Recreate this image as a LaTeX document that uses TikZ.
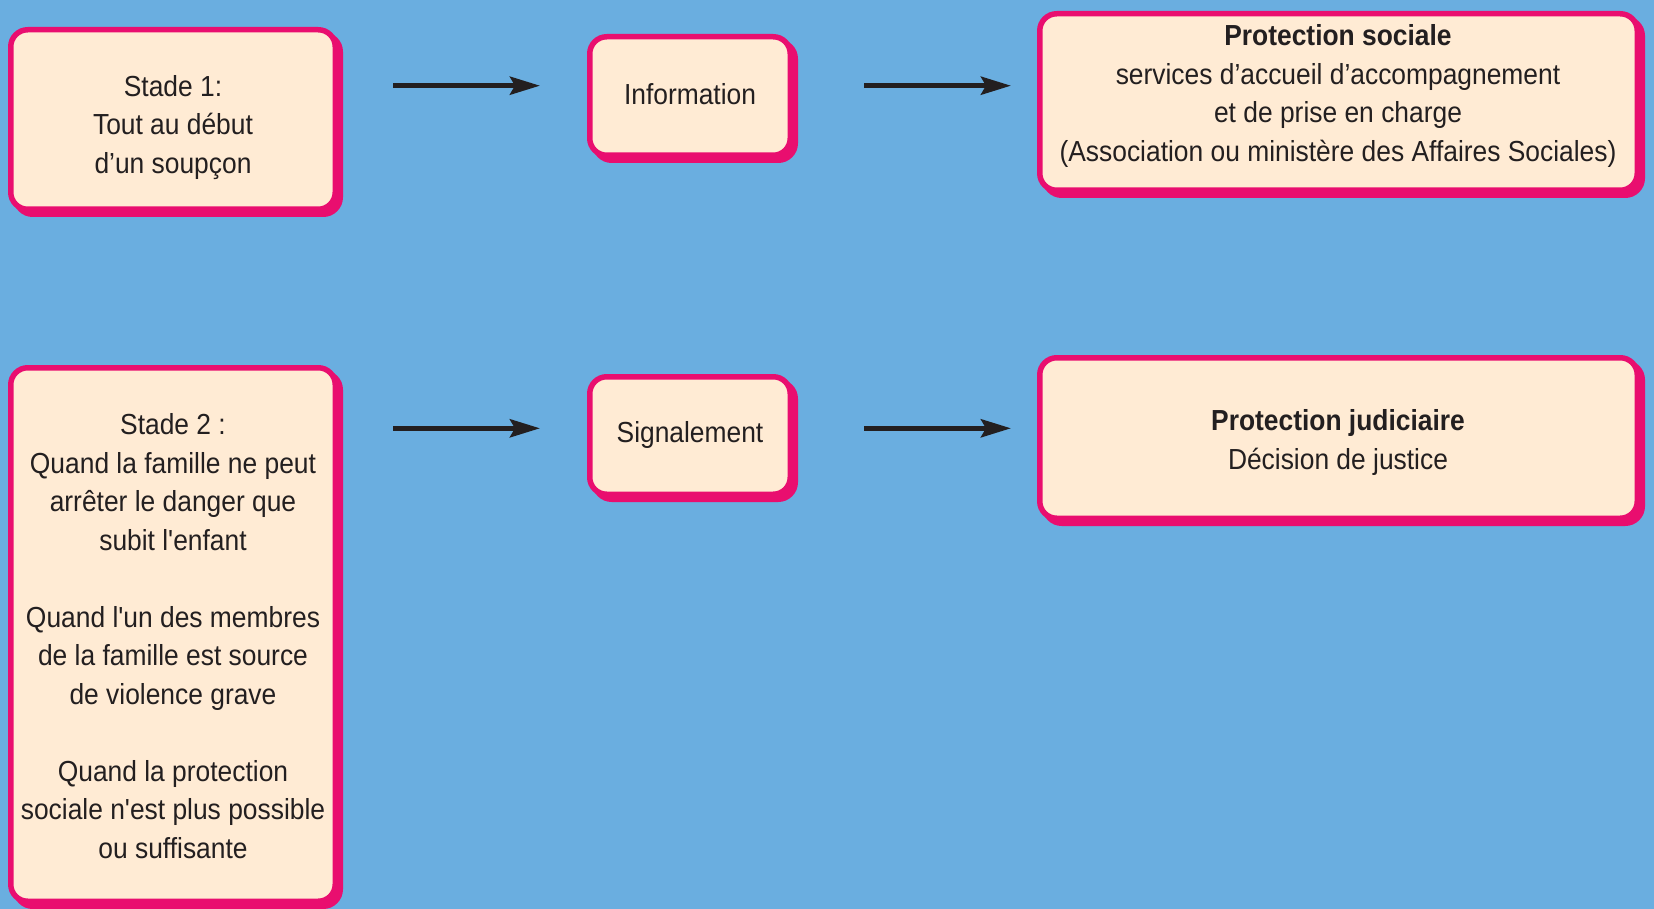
\documentclass[tikz,border=0pt]{standalone}
\usepackage{fontspec}
\setmainfont{Liberation Sans}[FakeStretch=0.91, Ligatures=TeXOff]
\usetikzlibrary{arrows.meta,shadows}
\definecolor{bgblue}{HTML}{6AAEE0}
\definecolor{pinkc}{HTML}{E90E6F}
\definecolor{cream}{HTML}{FFEBD4}
\definecolor{ink}{HTML}{231F20}
\newcommand{\diagfont}{\fontsize{29pt}{38.5pt}\selectfont}
\begin{document}
\begin{tikzpicture}[x=1pt,y=-1pt,
  box/.style={draw=pinkc, line width=5.5pt, fill=cream, rounded corners=17pt,
    inner sep=0pt, outer sep=0pt,
    drop shadow={shadow xshift=5pt, shadow yshift=-5pt, fill=pinkc, draw=pinkc, line width=5.5pt, opacity=1}},
  txt/.style={text=ink, align=center, font=\diagfont, inner sep=0pt},
  arr/.style={draw=ink, line width=5pt, -{Stealth[length=30pt, width=18pt, inset=5pt]}}]
\fill[bgblue] (0,0) rectangle (1654,909);
\useasboundingbox (0,0) rectangle (1654,909);
% boxes
\node[box, minimum width=324.5pt, minimum height=179.5pt] (b1) at (173,119.5) {};
\node[box, minimum width=200.5pt, minimum height=118.5pt] (info) at (690,96) {};
\node[box, minimum width=597.5pt, minimum height=176.5pt] (ps) at (1338.5,102) {};
\node[box, minimum width=324.5pt, minimum height=533.5pt] (b2) at (173,634.5) {};
\node[box, minimum width=200.5pt, minimum height=117.5pt] (sig) at (690,435.5) {};
\node[box, minimum width=597.5pt, minimum height=160.5pt] (pj) at (1338.5,438) {};
% texts
\node[txt] (t1) at (173,127.5) {Stade 1:\\Tout au début\\d’un soupçon};
\node[txt] (ti) at (690,94) {Information};
\node[txt] (tps) at (1338,96) {\textbf{Protection sociale}\\services d’accueil d’accompagnement\\et de prise en charge\\(Association ou ministère des Affaires Sociales)};
\node[txt] (t2) at (173,636) {Stade 2 :\\Quand la famille ne peut\\arrêter le danger que\\subit l'enfant\\[38.5pt]Quand l'un des membres\\de la famille est source\\de violence grave\\[38.5pt]Quand la protection\\sociale n'est plus possible\\ou suffisante};
\node[txt] (tsig) at (690,435.5) {Signalement};
\node[txt] (tpj) at (1338,442.5) {\textbf{Protection judiciaire}\\Décision de justice};
% arrows
\coordinate (a1s) at (393,85.7);
\coordinate (a1e) at (540,85.7);
\coordinate (a2s) at (864,85.7);
\coordinate (a2e) at (1011,85.7);
\coordinate (a3s) at (393,428.3);
\coordinate (a3e) at (540,428.3);
\coordinate (a4s) at (864,428.3);
\coordinate (a4e) at (1011,428.3);
\draw[arr] (a1s) -- (a1e);
\draw[arr] (a2s) -- (a2e);
\draw[arr] (a3s) -- (a3e);
\draw[arr] (a4s) -- (a4e);
\end{tikzpicture}
\end{document}
